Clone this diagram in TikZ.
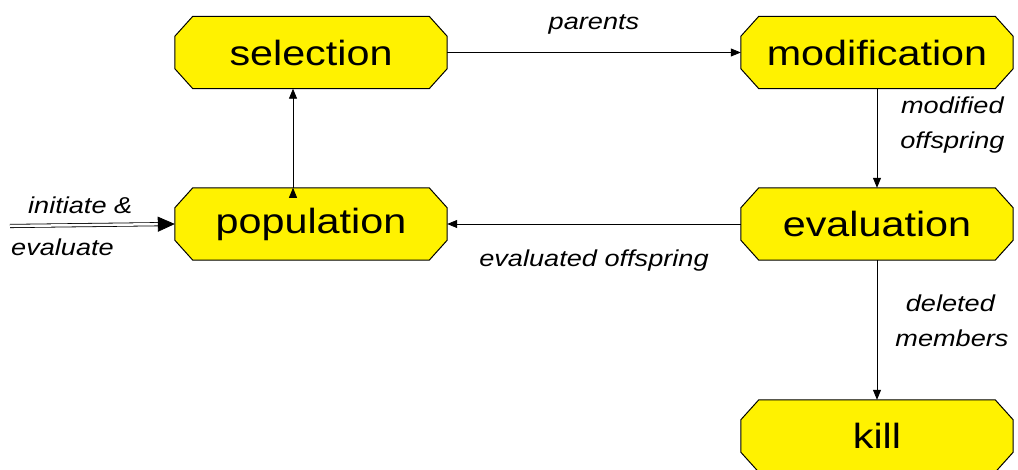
\documentclass[tikz,border=0pt]{standalone}
\usepackage{fontspec}
\setmainfont{Liberation Sans}[FakeStretch=1.18]
\usetikzlibrary{arrows.meta,backgrounds}
\tikzset{
	stage/.style={shape=rectangle,minimum width=272pt,minimum height=72pt,inner sep=0pt,
		font=\fontsize{35}{40}\selectfont},
	octa/.style={draw=black,fill=yellow,line width=1pt,line join=round},
	flow/.style={draw=black,line width=0.8pt,-{Triangle[length=10pt,width=8pt]}},
	tag/.style={font=\fontsize{23}{28}\selectfont\itshape,inner sep=0pt,align=center}
}
\begin{document}
\begin{tikzpicture}[x=1pt,y=-1pt]
	\useasboundingbox (0,0) rectangle (1018,470);
	\node[stage] (sel) at (311,52.5) {selection};
	\node[stage] (mod) at (877,52.5) {modification};
	\node[stage] (pop) at (311,224) {population};
	\node[stage] (eval) at (877,224) {evaluation};
	\node[stage] (kill) at (877,436) {kill};
	% chamfered outlines behind the names
	\begin{scope}[on background layer]
		\foreach \n in {sel,mod,pop,eval,kill}
			\path[octa] ([xshift=18pt]\n.north west) -- ([xshift=-18pt]\n.north east)
				-- ([yshift=-20pt]\n.north east) -- ([yshift=20pt]\n.south east)
				-- ([xshift=-18pt]\n.south east) -- ([xshift=18pt]\n.south west)
				-- ([yshift=20pt]\n.south west) -- ([yshift=-20pt]\n.north west) -- cycle;
	\end{scope}
	\coordinate (init) at (10,226);
	\path [flow] (sel) edge node[tag,above=18pt] {parents} (mod);
	\path [flow] (mod) edge node[tag,right=20pt,yshift=13pt,text width=110pt] {modified\\[7pt]offspring} (eval);
	\path [flow] (eval) edge node[tag,below=25pt] {evaluated offspring} (pop);
	\path [flow] (eval) edge node[tag,right=18pt,yshift=9pt,text width=110pt] {deleted\\[7pt]members} (kill);
	\path [flow] ([xshift=-18pt]pop.north) edge ([xshift=-18pt]sel.south);
	\draw[double,double distance=2.5pt,line width=0.8pt,-{Triangle[length=17pt,width=15pt]}] (init) -- (pop.west);
	\node[tag,anchor=west] (ini) at (28,205) {initiate \&};
	\node[tag,anchor=west] (evl) at (11,247) {evaluate};
\end{tikzpicture}
\end{document}
